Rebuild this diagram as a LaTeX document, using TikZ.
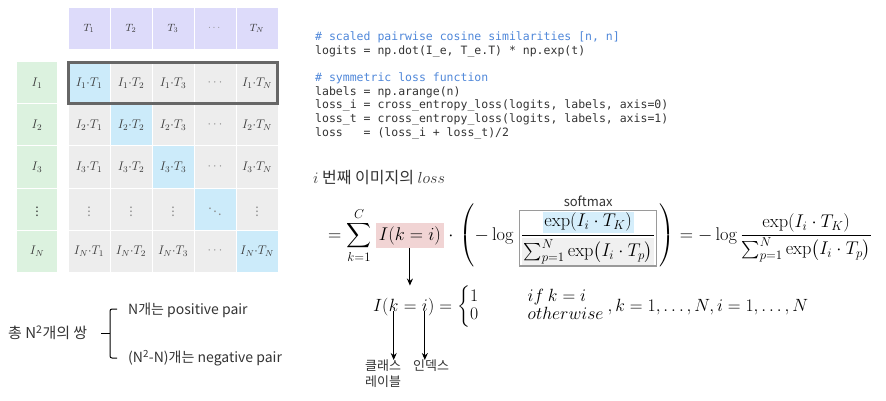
\RequirePackage{fix-cm}
\documentclass[tikz,border=0pt]{standalone}
\usepackage{amsmath}
\usepackage[no-math]{fontspec}
\setmainfont{Noto Sans CJK KR}
\setmonofont{DejaVu Sans Mono}
\usetikzlibrary{positioning,fit,arrows.meta}

\definecolor{hdrpurple}{HTML}{DDDBFA}
\definecolor{rowgreen}{HTML}{DCF2DF}
\definecolor{cellgray}{HTML}{EDEDED}
\definecolor{cellblue}{HTML}{CCEBFA}
\definecolor{celltxt}{HTML}{3A3A3A}
\definecolor{dotgray}{HTML}{8A8A8A}
\definecolor{rowline}{HTML}{666666}
\definecolor{cmtblue}{HTML}{4F87D9}
\definecolor{codetxt}{HTML}{333333}
\definecolor{pinkbg}{HTML}{F1D4D4}
\definecolor{numblue}{HTML}{D5EEFB}
\definecolor{dengray}{HTML}{F0F0F0}
\definecolor{boxgray}{HTML}{9A9A9A}

\newcommand{\cmt}[1]{\textcolor{cmtblue}{#1}}
\newcommand{\softfrac}{\dfrac{\colorbox{numblue}{$\exp(I_i\cdot T_K)$}}{\colorbox{dengray}{$\sum_{p=1}^{N}\exp\bigl(I_i\cdot T_p\bigr)$}}}
\newcommand{\plainfrac}{\dfrac{\exp(I_i\cdot T_K)}{\sum_{p=1}^{N}\exp\bigl(I_i\cdot T_p\bigr)}}

\tikzset{
  cell/.style={minimum width=41pt, minimum height=41pt, inner sep=0pt, text=celltxt, font=\fontsize{12.5}{14}\selectfont},
  hdr/.style={cell, fill=hdrpurple, font=\fontsize{10.5}{12}\selectfont},
  rowlab/.style={cell, minimum width=40pt, fill=rowgreen},
  greycell/.style={cell, fill=cellgray},
  diagcell/.style={cell, fill=cellblue},
  eq/.style={inner sep=0pt, anchor=base west, font=\fontsize{18.4}{21}\selectfont},
  eqtwo/.style={inner sep=0pt, anchor=base west, font=\fontsize{17.7}{21}\selectfont},
  arr/.style={-{Stealth[length=7pt,width=6pt]}, line width=1pt},
  krtext/.style={inner sep=0pt, font=\fontsize{13}{16}\selectfont, text=codetxt},
}

\begin{document}
\begin{tikzpicture}[x=1pt, y=-1pt]
\useasboundingbox (0,0) rectangle (886,401);

% similarity matrix
\foreach \c/\tx in {1/T_1,2/T_2,3/T_3,4/{\color{dotgray}\cdots},5/T_N}
  \node[hdr] (t\c) at (47+42*\c, 28.5) {$\tx$};
\foreach \r/\im in {1/I_1,2/I_2,3/I_3,4/\vdots,5/I_N}{
  \node[rowlab] (i\r) at (37, 41+42*\r) {$\im$};
  \foreach \c/\tx in {1/T_1,2/T_2,3/T_3,4/\cdots,5/T_N}{
    \ifnum\r=\c \def\sty{diagcell}\else\def\sty{greycell}\fi
    \ifnum\r=4 \def\lab{{\color{dotgray}\vdots}}\else
      \ifnum\c=4 \def\lab{{\color{dotgray}\cdots}}\else\def\lab{\im{\cdot}\tx}\fi\fi
    \ifnum\r=4 \ifnum\c=4 \def\lab{{\color{dotgray}\ddots}}\fi\fi
    \node[\sty] (c\r\c) at (47+42*\c, 41+42*\r) {$\lab$};
  }
}
\node[draw=rowline, line width=3pt, inner sep=0pt, fit=(c11)(c15)] (row1) {};

% code
\node[anchor=north west, align=left, inner sep=0pt, text=codetxt,
      font=\ttfamily\fontsize{11.5}{13.6}\selectfont] (code) at (315, 32) {%
\cmt{\# scaled pairwise cosine similarities [n, n]}\\
logits = np.dot(I\_e, T\_e.T) * np.exp(t)\\[13.6pt]
\cmt{\# symmetric loss function}\\
labels = np.arange(n)\\
loss\_i = cross\_entropy\_loss(logits, labels, axis=0)\\
loss\_t = cross\_entropy\_loss(logits, labels, axis=1)\\
loss\ \ \ = (loss\_i + loss\_t)/2};

% loss of the i-th image
\node[krtext, anchor=base west, font=\fontsize{16}{18}\selectfont] (title) at (313, 183) {$i$ 번째 이미지의 $loss$};

\node[eq] (eqsum) at (328, 240) {$\displaystyle =\sum_{k=1}^{C}$};
\node[eq, fill=pinkbg, inner sep=3pt] (indic) at ([xshift=4pt]eqsum.base east) {$I(k=i)$};
\node[eq] (paren) at ([xshift=4pt]indic.base east) {$\cdot\,\left(-\log\vphantom{\softfrac}\right.$};
\node[eq, draw=boxgray, line width=1.2pt, inner sep=1pt] (softmax) at ([xshift=1pt]paren.base east) {\setlength{\fboxsep}{1.5pt}$\softfrac$};
\node[eq] (rhs) at ([xshift=1pt]softmax.base east) {$\left.\vphantom{\softfrac}\right)=-\log\plainfrac$};
\node[krtext, above=3pt of softmax] (smlab) {softmax};

% indicator function
\node[eqtwo] (eqI) at (373, 311) {$I($};
\node[eqtwo] (eqk) at (eqI.base east) {$k$};
\node[eqtwo] (eqeq) at (eqk.base east) {${}={}$};
\node[eqtwo] (eqi) at (eqeq.base east) {$i$};
\node[eqtwo] (eqcase) at (eqi.base east) {\def\arraystretch{0.85}$)=\left\{\begin{array}{@{}l@{\hspace{2.8em}}l@{}}1 & if\ k=i\\ 0 & otherwise\end{array}\right., k=1,\dots,N, i=1,\dots,N$};

\node[krtext, align=left, anchor=north west] (lblcls) at (365, 360) {클래스\\레이블};
\node[krtext, anchor=north west] (lblidx) at (413, 360) {인덱스};

\coordinate (indtip) at ([yshift=12pt]indic.south |- eqI.north);
\draw[arr] (indic.south) -- (indtip);
\draw[arr] (eqk.south) -- (eqk.south |- lblcls.north);
\draw[arr] (eqi.south) -- (eqi.south |- lblidx.north);

% pairs
\node[krtext, anchor=west, font=\fontsize{15}{17}\selectfont] (total) at (8, 333) {총 N\textsuperscript{2}개의 쌍};
\node[krtext, anchor=west, font=\fontsize{14}{16}\selectfont] (pos) at (128, 310) {N개는 positive pair};
\node[krtext, anchor=west, font=\fontsize{14}{16}\selectfont] (neg) at (128, 358) {(N\textsuperscript{2}-N)개는 negative pair};
\draw[line width=1pt, rounded corners=2pt] (117,309) -- (110,309) -- (110,358) -- (117,358);
\draw[line width=1pt] (101,333) -- (110,333);
\end{tikzpicture}
\end{document}
